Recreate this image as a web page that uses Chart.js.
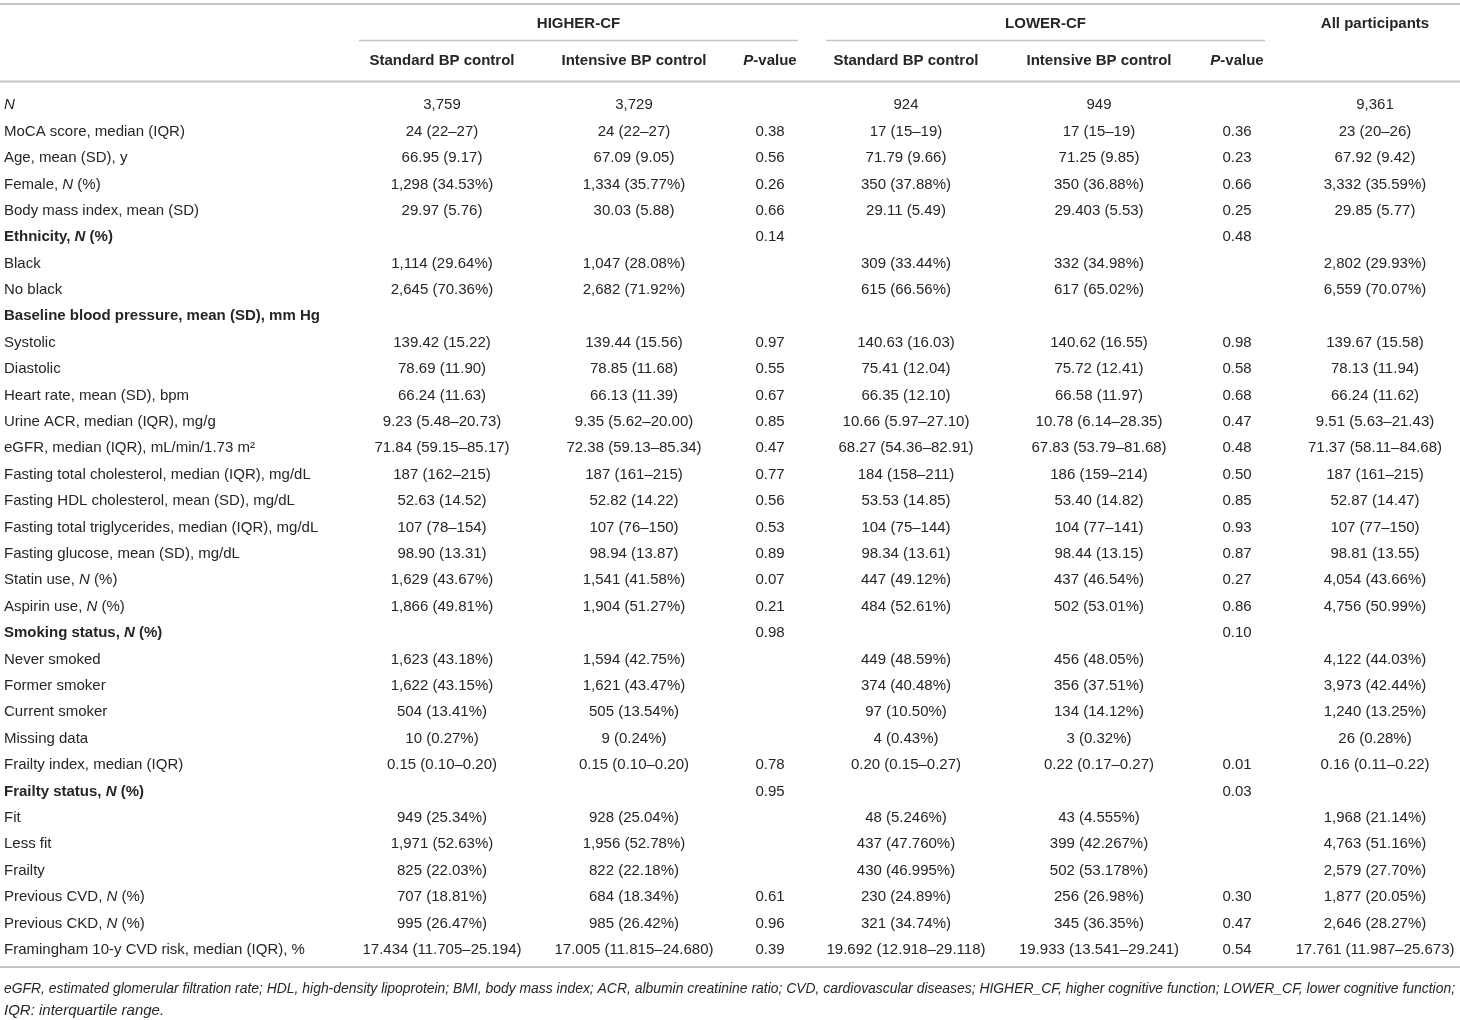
<!DOCTYPE html>
<html lang="en">
<head>
  <meta charset="UTF-8" />
  <title>Baseline characteristics by cognitive function</title>
  <script src="https://cdn.jsdelivr.net/npm/chart.js"></script>
  <style>
    body {
      margin: 0;
      padding: 0;
      background: #ffffff;
    }
    canvas {
      display: block;
    }
  </style>
</head>
<body>
  <canvas id="tableChart" width="1460" height="1020"></canvas>

  <script>
    const rowLabels = [
      'N',
      'MoCA score, median (IQR)',
      'Age, mean (SD), y',
      'Female, N (%)',
      'Body mass index, mean (SD)',
      'Ethnicity, N (%)',
      'Black',
      'No black',
      'Baseline blood pressure, mean (SD), mm Hg',
      'Systolic',
      'Diastolic',
      'Heart rate, mean (SD), bpm',
      'Urine ACR, median (IQR), mg/g',
      'eGFR, median (IQR), mL/min/1.73 m²',
      'Fasting total cholesterol, median (IQR), mg/dL',
      'Fasting HDL cholesterol, mean (SD), mg/dL',
      'Fasting total triglycerides, median (IQR), mg/dL',
      'Fasting glucose, mean (SD), mg/dL',
      'Statin use, N (%)',
      'Aspirin use, N (%)',
      'Smoking status, N (%)',
      'Never smoked',
      'Former smoker',
      'Current smoker',
      'Missing data',
      'Frailty index, median (IQR)',
      'Frailty status, N (%)',
      'Fit',
      'Less fit',
      'Frailty',
      'Previous CVD, N (%)',
      'Previous CKD, N (%)',
      'Framingham 10-y CVD risk, median (IQR), %'
    ];

    // section heading rows
    const headingRows = [5, 8, 20, 26];

    const groupLabels = ['HIGHER-CF', 'LOWER-CF', 'All participants'];
    const columnLabels = ['Standard BP control', 'Intensive BP control', 'P-value',
                          'Standard BP control', 'Intensive BP control', 'P-value', ''];

    const higherStandard = [
      '3,759', '24 (22–27)', '66.95 (9.17)', '1,298 (34.53%)', '29.97 (5.76)', '',
      '1,114 (29.64%)', '2,645 (70.36%)', '', '139.42 (15.22)', '78.69 (11.90)', '66.24 (11.63)',
      '9.23 (5.48–20.73)', '71.84 (59.15–85.17)', '187 (162–215)', '52.63 (14.52)', '107 (78–154)',
      '98.90 (13.31)', '1,629 (43.67%)', '1,866 (49.81%)', '', '1,623 (43.18%)', '1,622 (43.15%)',
      '504 (13.41%)', '10 (0.27%)', '0.15 (0.10–0.20)', '', '949 (25.34%)', '1,971 (52.63%)',
      '825 (22.03%)', '707 (18.81%)', '995 (26.47%)', '17.434 (11.705–25.194)'
    ];
    const higherIntensive = [
      '3,729', '24 (22–27)', '67.09 (9.05)', '1,334 (35.77%)', '30.03 (5.88)', '',
      '1,047 (28.08%)', '2,682 (71.92%)', '', '139.44 (15.56)', '78.85 (11.68)', '66.13 (11.39)',
      '9.35 (5.62–20.00)', '72.38 (59.13–85.34)', '187 (161–215)', '52.82 (14.22)', '107 (76–150)',
      '98.94 (13.87)', '1,541 (41.58%)', '1,904 (51.27%)', '', '1,594 (42.75%)', '1,621 (43.47%)',
      '505 (13.54%)', '9 (0.24%)', '0.15 (0.10–0.20)', '', '928 (25.04%)', '1,956 (52.78%)',
      '822 (22.18%)', '684 (18.34%)', '985 (26.42%)', '17.005 (11.815–24.680)'
    ];
    const higherP = [
      '', '0.38', '0.56', '0.26', '0.66', '0.14', '', '', '', '0.97', '0.55', '0.67',
      '0.85', '0.47', '0.77', '0.56', '0.53', '0.89', '0.07', '0.21', '0.98', '', '',
      '', '', '0.78', '0.95', '', '', '', '0.61', '0.96', '0.39'
    ];
    const lowerStandard = [
      '924', '17 (15–19)', '71.79 (9.66)', '350 (37.88%)', '29.11 (5.49)', '',
      '309 (33.44%)', '615 (66.56%)', '', '140.63 (16.03)', '75.41 (12.04)', '66.35 (12.10)',
      '10.66 (5.97–27.10)', '68.27 (54.36–82.91)', '184 (158–211)', '53.53 (14.85)', '104 (75–144)',
      '98.34 (13.61)', '447 (49.12%)', '484 (52.61%)', '', '449 (48.59%)', '374 (40.48%)',
      '97 (10.50%)', '4 (0.43%)', '0.20 (0.15–0.27)', '', '48 (5.246%)', '437 (47.760%)',
      '430 (46.995%)', '230 (24.89%)', '321 (34.74%)', '19.692 (12.918–29.118)'
    ];
    const lowerIntensive = [
      '949', '17 (15–19)', '71.25 (9.85)', '350 (36.88%)', '29.403 (5.53)', '',
      '332 (34.98%)', '617 (65.02%)', '', '140.62 (16.55)', '75.72 (12.41)', '66.58 (11.97)',
      '10.78 (6.14–28.35)', '67.83 (53.79–81.68)', '186 (159–214)', '53.40 (14.82)', '104 (77–141)',
      '98.44 (13.15)', '437 (46.54%)', '502 (53.01%)', '', '456 (48.05%)', '356 (37.51%)',
      '134 (14.12%)', '3 (0.32%)', '0.22 (0.17–0.27)', '', '43 (4.555%)', '399 (42.267%)',
      '502 (53.178%)', '256 (26.98%)', '345 (36.35%)', '19.933 (13.541–29.241)'
    ];
    const lowerP = [
      '', '0.36', '0.23', '0.66', '0.25', '0.48', '', '', '', '0.98', '0.58', '0.68',
      '0.47', '0.48', '0.50', '0.85', '0.93', '0.87', '0.27', '0.86', '0.10', '', '',
      '', '', '0.01', '0.03', '', '', '', '0.30', '0.47', '0.54'
    ];
    const allParticipants = [
      '9,361', '23 (20–26)', '67.92 (9.42)', '3,332 (35.59%)', '29.85 (5.77)', '',
      '2,802 (29.93%)', '6,559 (70.07%)', '', '139.67 (15.58)', '78.13 (11.94)', '66.24 (11.62)',
      '9.51 (5.63–21.43)', '71.37 (58.11–84.68)', '187 (161–215)', '52.87 (14.47)', '107 (77–150)',
      '98.81 (13.55)', '4,054 (43.66%)', '4,756 (50.99%)', '', '4,122 (44.03%)', '3,973 (42.44%)',
      '1,240 (13.25%)', '26 (0.28%)', '0.16 (0.11–0.22)', '', '1,968 (21.14%)', '4,763 (51.16%)',
      '2,579 (27.70%)', '1,877 (20.05%)', '2,646 (28.27%)', '17.761 (11.987–25.673)'
    ];

    const footnotes = [
      'eGFR, estimated glomerular filtration rate; HDL, high-density lipoprotein; BMI, body mass index; ACR, albumin creatinine ratio; CVD, cardiovascular diseases; HIGHER_CF, higher cognitive function; LOWER_CF, lower cognitive function;',
      'IQR: interquartile range.'
    ];

    const columns = [higherStandard, higherIntensive, higherP, lowerStandard, lowerIntensive, lowerP, allParticipants];

    // layout (pixels on the x scale, which runs 0..1460)
    const colCenters = [442, 634, 770, 906, 1099, 1237, 1375];
    const groupSpans = [[359, 798], [826, 1265]];
    const FONT = '"Liberation Sans", Arial, Helvetica, sans-serif';
    const TEXT = '#262626';
    const RULE = '#c4c4c4';

    // split text so that the stand-alone letter N and the P of "P-value" come out italic
    function segments(text) {
      const parts = [];
      const re = /(\bN\b|\bP(?=-value))/g;
      let last = 0, m;
      while ((m = re.exec(text)) !== null) {
        if (m.index > last) parts.push({ t: text.slice(last, m.index), i: false });
        parts.push({ t: m[0], i: true });
        last = m.index + m[0].length;
      }
      if (last < text.length) parts.push({ t: text.slice(last), i: false });
      return parts;
    }

    function fontFor(bold, italic, size) {
      return (italic ? 'italic ' : '') + (bold ? 'bold ' : '') + size + 'px ' + FONT;
    }

    function drawRich(ctx, text, x, y, align, bold, size) {
      const parts = segments(text);
      let width = 0;
      parts.forEach(p => {
        ctx.font = fontFor(bold, p.i, size);
        p.w = ctx.measureText(p.t).width;
        width += p.w;
      });
      let cx = align === 'center' ? x - width / 2 : x;
      ctx.textAlign = 'left';
      ctx.textBaseline = 'middle';
      parts.forEach(p => {
        ctx.font = fontFor(bold, p.i, size);
        ctx.fillText(p.t, cx, y + 1);
        cx += p.w;
      });
    }

    function rule(ctx, x1, x2, y, w) {
      ctx.beginPath();
      ctx.strokeStyle = RULE;
      ctx.lineWidth = w;
      ctx.moveTo(x1, y);
      ctx.lineTo(x2, y);
      ctx.stroke();
    }

    const tablePlugin = {
      id: 'tablePlugin',
      afterDraw(chart) {
        const ctx = chart.ctx;
        const xs = chart.scales.x;
        const ys = chart.scales.y;
        const area = chart.chartArea;
        const left = xs.getPixelForValue(0);
        const right = xs.getPixelForValue(1460);
        ctx.save();
        ctx.fillStyle = TEXT;

        // header
        rule(ctx, left, right, 4, 2);
        groupSpans.forEach((s, i) => {
          const mid = xs.getPixelForValue((s[0] + s[1]) / 2);
          drawRich(ctx, groupLabels[i], mid, 22.5, 'center', true, 15);
          rule(ctx, xs.getPixelForValue(s[0]), xs.getPixelForValue(s[1]), 40.5, 1.5);
        });
        drawRich(ctx, groupLabels[2], xs.getPixelForValue(colCenters[6]), 22.5, 'center', true, 15);
        columnLabels.forEach((lab, c) => {
          if (lab) drawRich(ctx, lab, xs.getPixelForValue(colCenters[c]), 60, 'center', true, 15);
        });
        rule(ctx, left, right, 81.5, 2);

        // body rows
        rowLabels.forEach((lab, r) => {
          const y = ys.getPixelForValue(r);
          const bold = headingRows.includes(r);
          drawRich(ctx, lab, left + 4, y, 'left', bold, 15);
          columns.forEach((col, c) => {
            if (col[r]) drawRich(ctx, col[r], xs.getPixelForValue(colCenters[c]), y, 'center', false, 15);
          });
        });
        rule(ctx, left, right, area.bottom + 5, 2);

        // footnotes
        footnotes.forEach((f, i) => {
          ctx.font = 'italic 15px ' + FONT;
          const w = ctx.measureText(f).width;
          const size = Math.min(15, 15 * 1452 / w);
          ctx.font = 'italic ' + size + 'px ' + FONT;
          ctx.textAlign = 'left';
          ctx.textBaseline = 'middle';
          ctx.fillText(f, left + 4, area.bottom + 27 + i * 22);
        });
        ctx.restore();
      }
    };

    const ctx = document.getElementById('tableChart').getContext('2d');

    const chart = new Chart(ctx, {
      type: 'bar',
      data: {
        labels: rowLabels,
        datasets: [{
          label: 'rows',
          data: rowLabels.map(() => null)
        }]
      },
      options: {
        indexAxis: 'y',
        responsive: false,
        animation: false,
        events: [],
        layout: {
          padding: { top: 91, bottom: 58, left: 0, right: 0 }
        },
        plugins: {
          legend: { display: false },
          tooltip: { enabled: false }
        },
        scales: {
          x: { type: 'linear', min: 0, max: 1460, display: false },
          y: { type: 'category', offset: true, display: false }
        }
      },
      plugins: [tablePlugin]
    });
  </script>
</body>
</html>
